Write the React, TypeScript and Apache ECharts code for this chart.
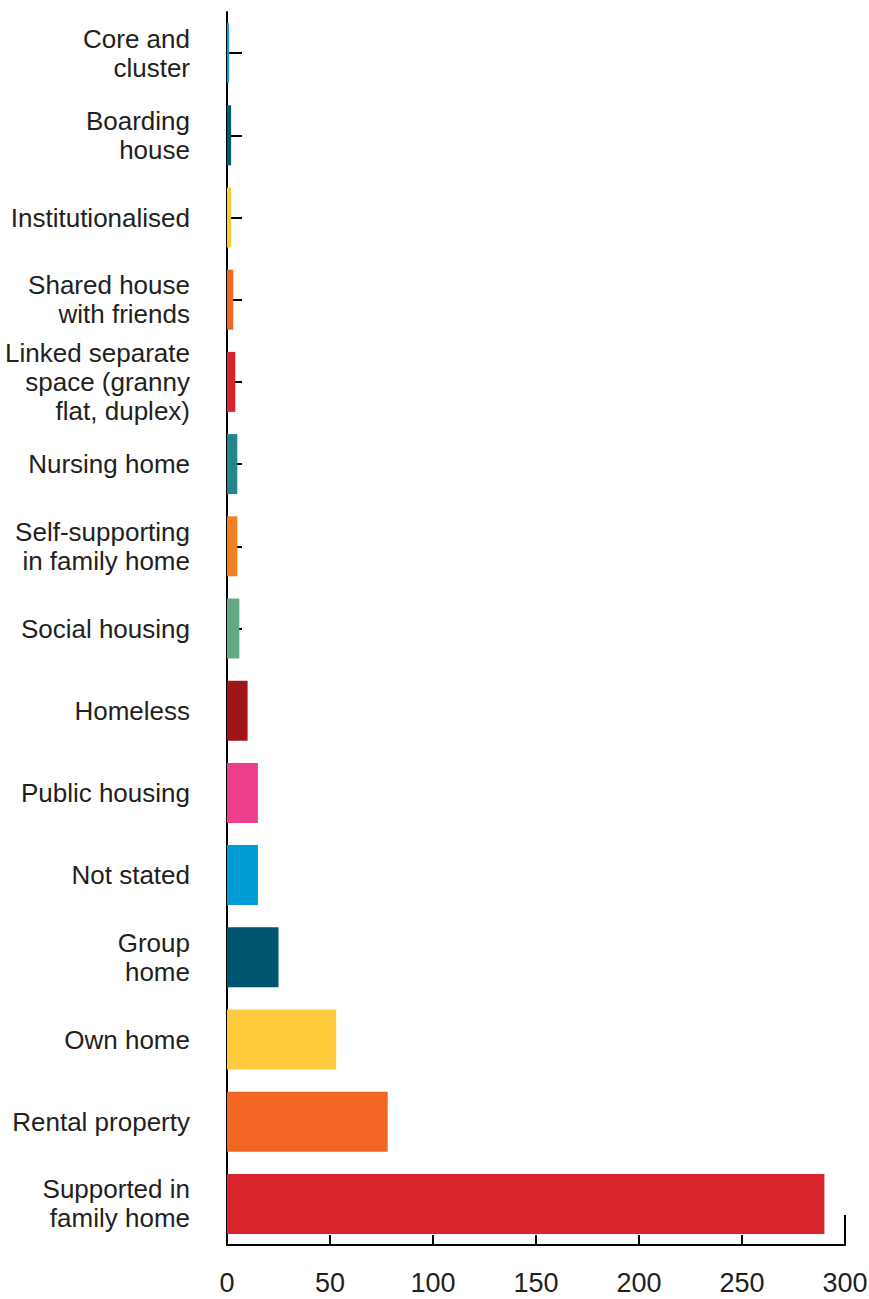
import React, { useEffect, useRef } from "react";
import * as echarts from "echarts";

const categories = [
  "Core and\ncluster",
  "Boarding\nhouse",
  "Institutionalised",
  "Shared house\nwith friends",
  "Linked separate\nspace (granny\nflat, duplex)",
  "Nursing home",
  "Self-supporting\nin family home",
  "Social housing",
  "Homeless",
  "Public housing",
  "Not stated",
  "Group\nhome",
  "Own home",
  "Rental property",
  "Supported in\nfamily home",
];

const values = [1, 2, 2, 3, 4, 5, 5, 6, 10, 15, 15, 25, 53, 78, 290];

const barColors = [
  "#0a9bd8",
  "#005a70",
  "#ffc93c",
  "#f26522",
  "#d7252d",
  "#22868a",
  "#f47f20",
  "#63a983",
  "#a11419",
  "#ee3f8f",
  "#009cd6",
  "#00566e",
  "#ffcb3d",
  "#f26522",
  "#d7242d",
];

const xTicks = [0, 50, 100, 150, 200, 250, 300];

const FONT = "'Liberation Sans Narrow', 'Arial Narrow', 'Liberation Sans', Arial, sans-serif";

export default function App() {
  const ref = useRef<HTMLDivElement>(null);

  useEffect(() => {
    document.body.style.margin = "0";
    if (!ref.current) return;
    const chart = echarts.init(ref.current, null, { renderer: "svg" });
    const gridLeft = 227;
    const gridTop = 12;
    const gridRight = 24;
    const gridBottom = 54;
    chart.setOption({
      animation: false,
      grid: {
        left: gridLeft,
        top: gridTop,
        right: gridRight,
        bottom: gridBottom,
        containLabel: false,
        outerBoundsMode: "none",
      },
      xAxis: {
        type: "value",
        min: xTicks[0],
        max: xTicks[xTicks.length - 1],
        interval: 50,
        axisLine: { show: true, lineStyle: { color: "#000", width: 2 } },
        axisTick: { show: true, inside: true, length: 10, lineStyle: { color: "#000", width: 2 } },
        splitLine: { show: false },
        axisLabel: { color: "#231f20", fontSize: 27, fontFamily: FONT, margin: 24 },
      },
      yAxis: {
        type: "category",
        inverse: true,
        data: categories,
        axisLine: { show: true, lineStyle: { color: "#000", width: 2 } },
        axisTick: { show: true, inside: true, length: 15, alignWithLabel: true, lineStyle: { color: "#000", width: 2 } },
        axisLabel: { color: "#231f20", fontSize: 26, fontFamily: FONT, margin: 37, lineHeight: 29, align: "right" },
      },
      series: [
        {
          type: "bar",
          data: values.map((v, i) => ({ value: v, itemStyle: { color: barColors[i] } })),
          barWidth: 60,
        },
      ],
    });
    const p0 = chart.convertToPixel({ xAxisIndex: 0 }, xTicks[xTicks.length - 1]) as number;
    const h = 1299 - gridBottom;
    chart.setOption({
      graphic: [
        {
          type: "line",
          shape: { x1: p0, y1: h, x2: p0, y2: h - 30 },
          style: { stroke: "#000", lineWidth: 2 },
          z: 10,
        },
      ],
    });
    return () => chart.dispose();
  }, []);

  return <div ref={ref} style={{ width: 869, height: 1299 }} />;
}
